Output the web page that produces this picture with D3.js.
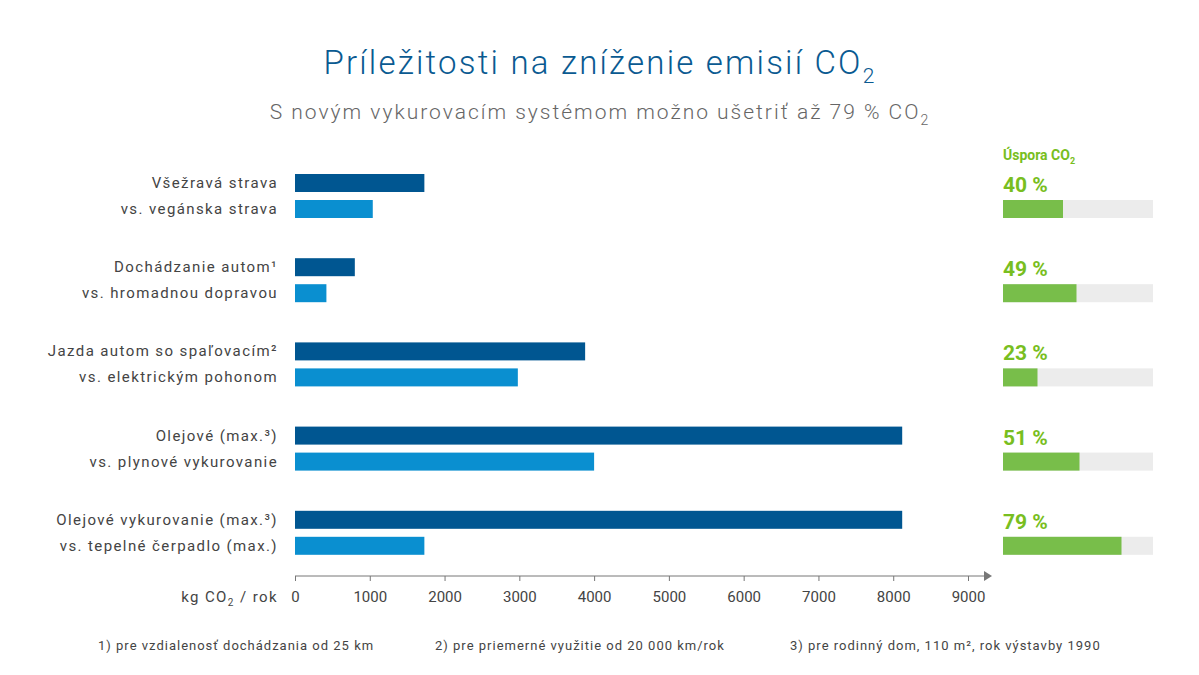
<!DOCTYPE html>
<html><head><meta charset="utf-8">
<script src="https://cdn.jsdelivr.net/npm/d3@7"></script>
<style>body{margin:0;background:#fff}text{font-family:Roboto,"Noto Sans",sans-serif}</style>
</head><body><div id="viz"></div>
<script>
const labelsTop = ['Všežravá strava', 'Dochádzanie autom¹', 'Jazda autom so spaľovacím²', 'Olejové (max.³)', 'Olejové vykurovanie (max.³)'];
const labelsBottom = ['vs. vegánska strava', 'vs. hromadnou dopravou', 'vs. elektrickým pohonom', 'vs. plynové vykurovanie', 'vs. tepelné čerpadlo (max.)'];
const valuesTop = [1730, 800, 3880, 8120, 8120];
const valuesBottom = [1040, 420, 2980, 4000, 1730];
const savings = [40, 49, 23, 51, 79];
const ticks = [0, 1000, 2000, 3000, 4000, 5000, 6000, 7000, 8000, 9000];
const footnotes = ['1) pre vzdialenosť dochádzania od 25 km', '2) pre priemerné využitie od 20 000 km/rok', '3) pre rodinný dom, 110 m², rok výstavby 1990'];

const W = 1199, H = 675;
const svg = d3.select('#viz').append('svg').attr('width', W).attr('height', H);

const x = d3.scaleLinear().domain([0, 9000]).range([295, 968]);
const y = d3.scaleBand().domain(d3.range(5)).range([170, 591]).paddingInner(0);
const pct = d3.scaleLinear().domain([0, 100]).range([1003, 1153]);

// title
const t = svg.append('text').attr('x', 600).attr('y', 74).attr('text-anchor', 'middle')
    .attr('font-size', 33).attr('letter-spacing', 2.2).attr('font-weight', 300).attr('fill', '#0a5a91');
t.append('tspan').text('Príležitosti na zníženie emisií CO');
t.append('tspan').text('2').attr('font-size', 21).attr('dy', 9);
const s = svg.append('text').attr('x', 600).attr('y', 119).attr('text-anchor', 'middle')
    .attr('font-size', 21).attr('letter-spacing', 2).attr('font-weight', 300).attr('fill', '#666');
s.append('tspan').text('S novým vykurovacím systémom možno ušetriť až 79 % CO');
s.append('tspan').text('2').attr('font-size', 14).attr('dy', 6);

const rows = svg.append('g').selectAll('g').data(d3.range(5)).join('g')
    .attr('transform', i => `translate(0,${y(i)})`);

rows.append('rect').attr('x', x(0)).attr('y', 4).attr('height', 18)
    .attr('width', i => x(valuesTop[i]) - x(0)).attr('fill', '#005691');
rows.append('rect').attr('x', x(0)).attr('y', 30).attr('height', 18)
    .attr('width', i => x(valuesBottom[i]) - x(0)).attr('fill', '#0a8fd0');
rows.append('text').attr('x', 278).attr('y', 18).attr('text-anchor', 'end').attr('letter-spacing', 1.4)
    .attr('font-size', 15).attr('fill', '#444').text(i => labelsTop[i]);
rows.append('text').attr('x', 278).attr('y', 44).attr('text-anchor', 'end').attr('letter-spacing', 1.4)
    .attr('font-size', 15).attr('fill', '#444').text(i => labelsBottom[i]);

// savings
rows.append('text').attr('x', pct(0)).attr('y', 22).attr('font-size', 21)
    .attr('font-weight', 'bold').attr('fill', '#78be20').text(i => savings[i] + ' %');
rows.append('rect').attr('x', pct(0)).attr('y', 30).attr('height', 18)
    .attr('width', pct(100) - pct(0)).attr('fill', '#ececec');
rows.append('rect').attr('x', pct(0)).attr('y', 30).attr('height', 18)
    .attr('width', i => pct(savings[i]) - pct(0)).attr('fill', '#78be4a');

const u = svg.append('text').attr('x', 1003).attr('y', 160).attr('font-size', 14)
    .attr('font-weight', 'bold').attr('fill', '#78be20');
u.append('tspan').text('Úspora CO');
u.append('tspan').text('2').attr('font-size', 9).attr('dy', 4);

// axis
const ax = svg.append('g').attr('transform', 'translate(0,576)')
    .call(d3.axisBottom(x).tickValues(ticks).tickSize(5).tickFormat(d3.format('d')).tickPadding(10));
ax.select('.domain').attr('d', 'M295,0H985').attr('stroke', '#777');
ax.selectAll('.tick line').attr('stroke', '#777');
ax.selectAll('.tick text').attr('font-size', 15).attr('fill', '#444').attr('font-family', 'Roboto, sans-serif');
svg.append('path').attr('d', 'M984,571L992,576L984,581Z').attr('fill', '#777');

const k = svg.append('text').attr('x', 278).attr('y', 602).attr('text-anchor', 'end')
    .attr('font-size', 15).attr('letter-spacing', 1.4).attr('fill', '#444');
k.append('tspan').text('kg CO');
k.append('tspan').text('2').attr('font-size', 10).attr('dy', 4);
k.append('tspan').text(' / rok').attr('dy', -4);

svg.selectAll('.fn').data(footnotes).join('text').attr('class', 'fn')
    .attr('x', (d, i) => [98, 435, 790][i]).attr('y', 650).attr('letter-spacing', 1)
    .attr('font-size', 13).attr('fill', '#444').text(d => d);
</script></body></html>
